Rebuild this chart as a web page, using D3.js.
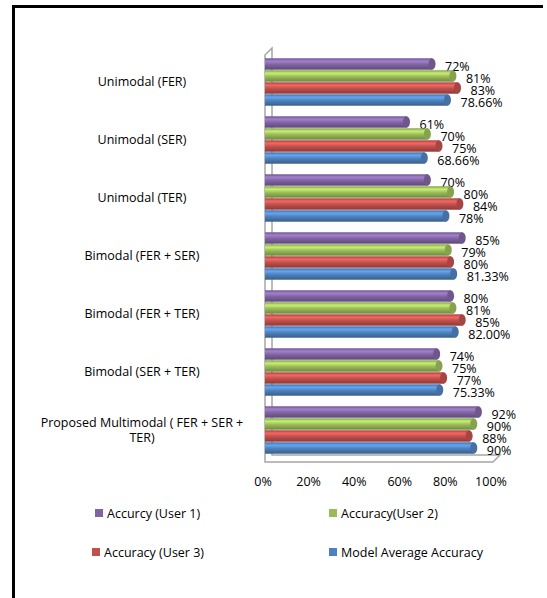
<!DOCTYPE html>
<html>
<head>
  <meta charset="utf-8">
  <title>D3</title>
  <script src="https://d3js.org/d3.v7.min.js"></script>
  <style>
    body { margin: 0; background: #fff; }
    text { font-family: "Open Sans", sans-serif; fill: #000; }
  </style>
</head>
<body>
  <script>
    var categories = ["Unimodal (FER)", "Unimodal (SER)", "Unimodal (TER)", "Bimodal (FER + SER)",
                      "Bimodal (FER + TER)", "Bimodal (SER + TER)", "Proposed Multimodal ( FER + SER + TER)"];
    var seriesNames = ["Accurcy (User 1)", "Accuracy(User 2)", "Accuracy (User 3)", "Model Average Accuracy"];
    var seriesColors = ["#8064A2", "#9BBB59", "#C0504D", "#4F81BD"];
    var user1 = [72, 61, 70, 85, 80, 74, 92];
    var user2 = [81, 70, 80, 79, 81, 75, 90];
    var user3 = [83, 75, 84, 80, 85, 77, 88];
    var avgAcc = [78.66, 68.66, 78, 81.33, 82.00, 75.33, 90];
    var avgLabels = ["78.66%", "68.66%", "78%", "81.33%", "82.00%", "75.33%", "90%"];
    var ticks = [0, 20, 40, 60, 80, 100];

    var w = 547, h = 598;
    var svg = d3.select("body").append("svg").attr("width", w).attr("height", h);

    // frame (left + top)
    svg.append("line").attr("x1", 13.5).attr("x2", 13.5).attr("y1", 5).attr("y2", h)
      .attr("stroke", "#000").attr("stroke-width", 3);
    svg.append("line").attr("x1", 12).attr("x2", 543).attr("y1", 6.5).attr("y2", 6.5)
      .attr("stroke", "#000").attr("stroke-width", 3);

    var x = d3.scaleLinear().domain([0, 100]).range([265, 497]);
    // front edge of the 3D floor, where the tick labels sit
    var xFront = d3.scaleLinear().domain([0, 100]).range([263, 491]);
    var y = d3.scaleBand().domain(categories).range([53, 459]).paddingInner(0.172).paddingOuter(0.086);
    var yIn = d3.scaleBand().domain(d3.range(4)).range([0, y.bandwidth()]);

    var rows = categories.map(function(c, i) {
      return [
        {cat: c, s: 0, v: user1[i], label: user1[i] + "%"},
        {cat: c, s: 1, v: user2[i], label: user2[i] + "%"},
        {cat: c, s: 2, v: user3[i], label: user3[i] + "%"},
        {cat: c, s: 3, v: avgAcc[i], label: avgLabels[i]}
      ];
    });

    // gradients for cylinders
    var defs = svg.append("defs");
    seriesColors.forEach(function(col, i) {
      var c = d3.color(col);
      var g = defs.append("linearGradient").attr("id", "g" + i)
        .attr("x1", 0).attr("y1", 0).attr("x2", 0).attr("y2", 1);
      g.append("stop").attr("offset", "0%").attr("stop-color", c.darker(0.5));
      g.append("stop").attr("offset", "25%").attr("stop-color", c.brighter(0.7));
      g.append("stop").attr("offset", "55%").attr("stop-color", c);
      g.append("stop").attr("offset", "100%").attr("stop-color", c.darker(0.9));
    });

    // 3D wall and floor
    var wallCol = "#a6a6a6";
    svg.append("path")
      .attr("d", "M265,462 L265,55 L272,48 L272,455 L500,455 L493,462 Z")
      .attr("fill", "#fff").attr("stroke", wallCol).attr("stroke-width", 1.5);

    var groups = svg.selectAll("g.cat").data(rows).enter().append("g")
      .attr("class", "cat")
      .attr("transform", function(d) { return "translate(0," + y(d[0].cat) + ")"; });

    var bars = groups.selectAll("g.bar").data(function(d) { return d; }).enter().append("g").attr("class", "bar");
    bars.append("rect")
      .attr("x", x(0))
      .attr("y", function(d) { return yIn(d.s) + 0.3; })
      .attr("width", function(d) { return x(d.v) - x(0); })
      .attr("height", yIn.bandwidth() - 0.6)
      .attr("fill", function(d) { return "url(#g" + d.s + ")"; });
    bars.append("ellipse")
      .attr("cx", function(d) { return x(d.v); })
      .attr("cy", function(d) { return yIn(d.s) + yIn.bandwidth() / 2; })
      .attr("rx", 3.5)
      .attr("ry", yIn.bandwidth() / 2 - 0.3)
      .attr("fill", function(d) { return d3.color(seriesColors[d.s]).darker(0.4); });

    bars.append("text")
      .attr("x", function(d) { return x(d.v) + 13; })
      .attr("y", function(d) { return yIn(d.s) + yIn.bandwidth() / 2 + 7; })
      .attr("font-size", "12.5px")
      .text(function(d) { return d.label; });

    // category labels, wrapped like the original
    var catLabels = svg.selectAll("text.cat").data(categories).enter().append("text")
      .attr("class", "cat")
      .attr("x", 142)
      .attr("text-anchor", "middle")
      .attr("font-size", "12.5px");
    catLabels.each(function(d) {
      var t = d3.select(this), words = d.split(" "), lines = [], line = [];
      words.forEach(function(wd) {
        line.push(wd);
        t.text(line.join(" "));
        if (t.node().getComputedTextLength() > 215 && line.length > 1) {
          line.pop(); lines.push(line.join(" ")); line = [wd];
        }
      });
      lines.push(line.join(" "));
      t.text(null);
      var cy = y(d) + y.bandwidth() / 2 - (lines.length - 1) * 7.5 + 4;
      lines.forEach(function(l, k) {
        t.append("tspan").attr("x", 142).attr("y", cy + k * 15).text(l);
      });
    });

    // x axis labels
    svg.selectAll("text.tick").data(ticks).enter().append("text")
      .attr("class", "tick")
      .attr("x", function(d) { return xFront(d); })
      .attr("y", 486)
      .attr("text-anchor", "middle")
      .attr("font-size", "12.5px")
      .text(function(d) { return d + "%"; });

    // legend
    var legPos = [[95, 513], [329, 513], [92, 552], [329, 552]];
    var leg = svg.selectAll("g.leg").data(seriesNames).enter().append("g")
      .attr("class", "leg")
      .attr("transform", function(d, i) { return "translate(" + legPos[i][0] + "," + legPos[i][1] + ")"; });
    leg.append("rect").attr("x", 0).attr("y", -4).attr("width", 8).attr("height", 8)
      .attr("fill", function(d, i) { return seriesColors[i]; });
    leg.append("text").attr("x", 12).attr("y", 4.5).attr("font-size", "12.5px")
      .text(function(d) { return d; });
  </script>
</body>
</html>
